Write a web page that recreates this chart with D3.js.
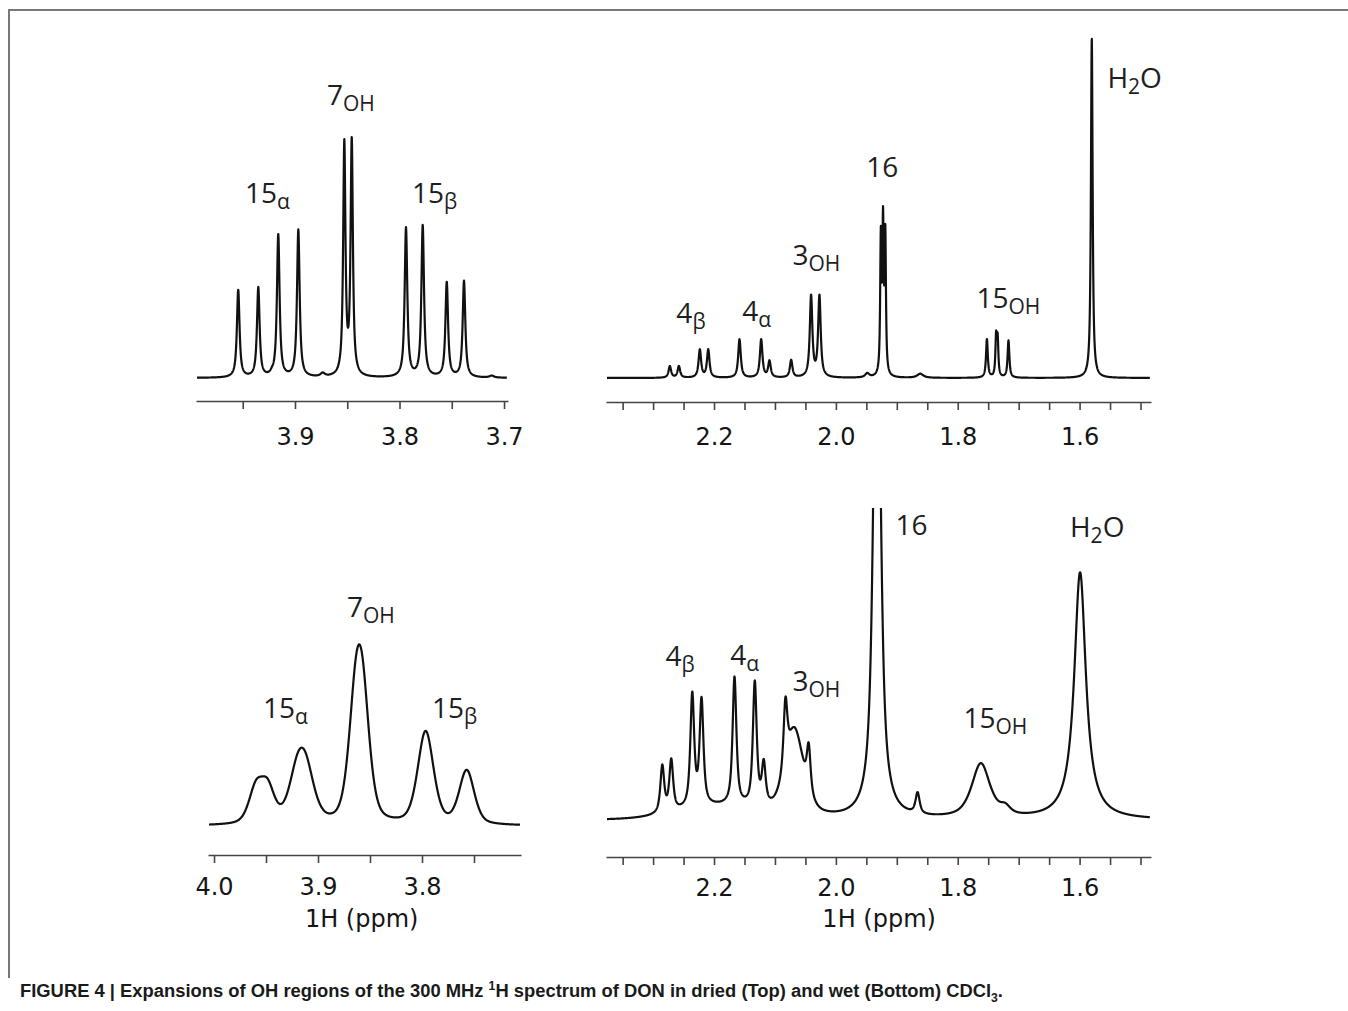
<!DOCTYPE html>
<html>
<head>
<meta charset="utf-8">
<script src="https://cdn.jsdelivr.net/npm/d3@7"></script>
<style>
body { margin: 0; background: #fff; }
svg { display: block; }
.lab { font-family: "Open Sans", "Noto Sans", sans-serif; font-size: 28px; fill: #1e1e1e; }
.tick text { font-family: "DejaVu Sans", Verdana, sans-serif; font-size: 24px; fill: #151515; }
</style>
</head>
<body>
<svg id="fig" width="1348" height="1011"></svg>
<script>
// peak tables: shift (ppm), intensity (tallest visible line = 100), line width (fwhm, ppm)
// dried CDCl3, 3.7 - 4.0 ppm
var dryLeftPpm  = [3.9543, 3.9351, 3.9160, 3.8968, 3.9220, 3.8735, 3.8528, 3.8457, 3.7938, 3.7778, 3.7548, 3.7383, 3.7118];
var dryLeftInt  = [36.0, 36.8, 58.6, 60.6, 0.8, 1.4, 95.3, 96.4, 61.4, 62.3, 39.0, 39.6, 0.8];
var dryLeftFwhm = [0.003, 0.003, 0.003, 0.003, 0.004, 0.005, 0.0026, 0.0026, 0.003, 0.003, 0.003, 0.003, 0.005];
// dried CDCl3, 1.5 - 2.35 ppm
var dryRightPpm  = [2.2725, 2.2577, 2.2233, 2.2095, 2.1582, 2.1226, 2.1090, 2.0734, 2.0407, 2.0270, 1.9485, 1.9262, 1.9226, 1.9189, 1.8615, 1.7521, 1.7370, 1.7345, 1.7167, 1.5800];
var dryRightInt  = [3.4, 3.4, 8.2, 8.2, 11.3, 11.2, 4.8, 5.1, 23.8, 23.8, 1.2, 39.5, 43.0, 40.5, 1.2, 11.3, 11.3, 10.5, 10.9, 100];
var dryRightFwhm = [0.005, 0.005, 0.005, 0.005, 0.005, 0.005, 0.005, 0.005, 0.005, 0.005, 0.008, 0.0025, 0.0025, 0.0025, 0.012, 0.0035, 0.0028, 0.0028, 0.0035, 0.0033];
// wet CDCl3, 3.7 - 4.0 ppm
var wetLeftPpm  = [3.9598, 3.9484, 3.9197, 3.9117, 3.8637, 3.8571, 3.7965, 3.7570];
var wetLeftInt  = [18.3, 18.3, 23, 23, 55, 55, 50, 29];
var wetLeftFwhm = [0.016, 0.016, 0.020, 0.020, 0.0165, 0.0165, 0.018, 0.017];
// wet CDCl3, 1.5 - 2.35 ppm (line 16 runs off the top)
var wetRightPpm  = [2.2849, 2.2702, 2.2357, 2.2205, 2.1664, 2.1331, 2.1184, 2.0828, 2.0446, 2.0680, 2.1900, 1.9325, 1.8659, 1.7620, 1.7220, 1.5992];
var wetRightInt  = [19, 20.6, 45.3, 42.5, 51.8, 50, 16.6, 27, 18.6, 34, 4.9, 251, 8.5, 22, 3, 100];
var wetRightFwhm = [0.0075, 0.0075, 0.0075, 0.0075, 0.0075, 0.0075, 0.0075, 0.0075, 0.0075, 0.035, 0.16, 0.013, 0.008, 0.036, 0.02, 0.023];
var wetRightEta  = [0.8, 0.8, 0.8, 0.8, 0.8, 0.8, 0.8, 0.8, 0.8, 0.5, 0, 0.85, 0.8, 0.7, 0.7, 1];

var leftTicks = [4.0, 3.95, 3.9, 3.85, 3.8, 3.75, 3.7];
var rightTicks = d3.range(0, 18).map(function(i){ return +(2.35 - i * 0.05).toFixed(2); });
var dryLeftLabels = [3.9, 3.8, 3.7];
var wetLeftLabels = [4.0, 3.9, 3.8];
var rightLabels = [2.2, 2.0, 1.8, 1.6];

// assignments: [text, subscript, trailing text, ppm, intensity]
var dryLeftNames = [["15", "\u03b1", "", 3.9478, 72], ["7", "OH", "", 3.8694, 112.3], ["15", "\u03b2", "", 3.7880, 72]];
var dryRightNames = [["4", "\u03b2", "", 2.2618, 16.2], ["4", "\u03b1", "", 2.1535, 16.8], ["3", "OH", "", 2.0714, 33.2],
  ["16", "", "", 1.9500, 59.1], ["15", "OH", "", 1.7694, 20.6], ["H", "2", "O", 1.5544, 85.3]];
var wetLeftNames = [["15", "\u03b1", "", 3.9529, 58.4], ["7", "OH", "", 3.8721, 113], ["15", "\u03b2", "", 3.7904, 58.4]];
var wetRightNames = [["4", "\u03b2", "", 2.2798, 62.3], ["4", "\u03b1", "", 2.1732, 62.8], ["3", "OH", "", 2.0714, 52.2],
  ["16", "", "", 1.9023, 115.4], ["H", "2", "O", 1.6158, 114.6], ["15", "OH", "", 1.7907, 37.2]];

var svg = d3.select('#fig');

// frame of the figure page
svg.append('path').attr('d', 'M9,978V10H1348').attr('fill', 'none').attr('stroke', '#777').attr('stroke-width', 2);

function lineShape(v, ppm, h, w, eta){
  var d = (v - ppm) / (w / 2);
  return h * (eta / (1 + d * d) + (1 - eta) * Math.exp(-Math.LN2 * d * d));
}

function panel(cfg){
  var g = svg.append('g');
  var x = d3.scaleLinear().domain(cfg.ppm).range(cfg.px);
  var y = d3.scaleLinear().domain([0, 100]).range([cfg.base, cfg.base - cfg.h100]);
  var step = (cfg.ppm[0] - cfg.ppm[1]) / ((cfg.px[1] - cfg.px[0]) * 6);
  var grid = d3.range(cfg.ppm[0] - step * 6, cfg.ppm[1] + step * 6, -step);
  var pts = grid.map(function(v){
    var s = 0, i;
    for (i = 0; i < cfg.peaks.length; ++i) {
      s += lineShape(v, cfg.peaks[i], cfg.ints[i], cfg.fwhm[i], cfg.eta ? cfg.eta[i] : cfg.etaAll);
    }
    return [v, s];
  });
  var line = d3.line().x(function(d){ return x(d[0]); }).y(function(d){ return y(d[1]); });
  var clipId = 'clip' + cfg.id;
  svg.append('clipPath').attr('id', clipId).append('rect')
    .attr('x', cfg.px[0] - 2).attr('y', cfg.clipTop).attr('width', cfg.px[1] - cfg.px[0] + 4).attr('height', cfg.base - cfg.clipTop + 30);
  g.append('path').datum(pts).attr('d', line).attr('clip-path', 'url(#' + clipId + ')')
    .attr('fill', 'none').attr('stroke', '#111').attr('stroke-width', 2.2).attr('stroke-linejoin', 'round');

  var ax = g.append('g').attr('transform', 'translate(0,' + cfg.axisY + ')');
  ax.call(d3.axisBottom(x).tickValues(cfg.ticks).tickSize(8).tickSizeOuter(0).tickFormat(''));
  ax.append('g').call(d3.axisBottom(x).tickValues(cfg.labels).tickSize(0).tickPadding(cfg.pad).tickFormat(d3.format('.1f')))
    .select('.domain').remove();
  ax.selectAll('.domain, .tick line').attr('stroke', '#444').attr('stroke-width', 1.6);

  cfg.names.forEach(function(n){
    var t = g.append('text').attr('class', 'lab').attr('x', x(n[3])).attr('y', y(n[4]));
    t.append('tspan').text(n[0]);
    if (n[1]) t.append('tspan').attr('dy', 6).attr('font-size', 21).text(n[1]);
    if (n[2]) t.append('tspan').attr('dy', -6).text(n[2]);
  });

  if (cfg.title) {
    g.append('text').attr('x', x(cfg.title[1])).attr('y', cfg.axisY + cfg.title[2])
      .attr('text-anchor', 'middle').style('font-family', '"DejaVu Sans", Verdana, sans-serif').style('font-size', '24px')
      .attr('fill', '#151515').text(cfg.title[0]);
  }
}

panel({id: 1, ppm: [3.9947, 3.6962], px: [196, 508], base: 378, h100: 243, clipTop: 0, axisY: 401, pad: 27,
  peaks: dryLeftPpm, ints: dryLeftInt, fwhm: dryLeftFwhm, etaAll: 0.9, ticks: leftTicks.slice(1), labels: dryLeftLabels, names: dryLeftNames});
panel({id: 2, ppm: [2.3773, 1.4828], px: [606, 1151], base: 378, h100: 340, clipTop: 0, axisY: 402, pad: 26,
  peaks: dryRightPpm, ints: dryRightInt, fwhm: dryRightFwhm, etaAll: 0.9, ticks: rightTicks, labels: rightLabels, names: dryRightNames});
panel({id: 3, ppm: [4.0058, 3.7048], px: [208, 521], base: 826, h100: 185, clipTop: 460, axisY: 855, pad: 23,
  peaks: wetLeftPpm, ints: wetLeftInt, fwhm: wetLeftFwhm, etaAll: 0.4, ticks: leftTicks.slice(0, 6), labels: wetLeftLabels, names: wetLeftNames,
  title: ['1H (ppm)', 3.858, 72]});
panel({id: 4, ppm: [2.3773, 1.4828], px: [606, 1151], base: 820, h100: 247, clipTop: 508, axisY: 857, pad: 22,
  peaks: wetRightPpm, ints: wetRightInt, fwhm: wetRightFwhm, eta: wetRightEta, ticks: rightTicks, labels: rightLabels, names: wetRightNames,
  title: ['1H (ppm)', 1.929, 70]});

// caption
var cap = svg.append('text').attr('x', 20).attr('y', 997)
  .style('font-family', '"Liberation Sans Narrow", "Liberation Sans", Arial, sans-serif').style('font-weight', 'bold')
  .style('font-size', '18px').attr('fill', '#1a1a1a');
cap.append('tspan').text('FIGURE 4 | Expansions of OH regions of the 300 MHz ');
cap.append('tspan').attr('dy', -7).attr('font-size', 12).text('1');
cap.append('tspan').attr('dy', 7).text('H spectrum of DON in dried (Top) and wet (Bottom) CDCl');
cap.append('tspan').attr('dy', 5).attr('font-size', 12).text('3');
cap.append('tspan').attr('dy', -5).text('.');
cap.attr('textLength', 983).attr('lengthAdjust', 'spacingAndGlyphs');
</script>
</body>
</html>
